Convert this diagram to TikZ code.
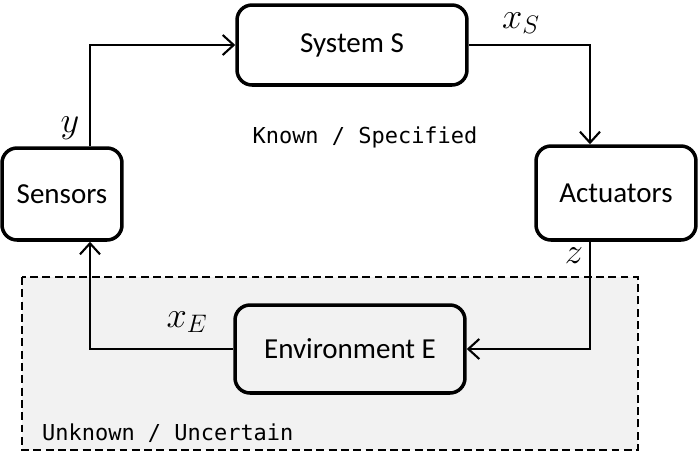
\documentclass[tikz,border=0pt]{standalone}
\usepackage{fontspec}
\setmainfont{Carlito}
\setmonofont{DejaVu Sans Mono}
\usetikzlibrary{arrows.meta}

\begin{document}
\begin{tikzpicture}[x=0.02cm, y=-0.02cm,
    block/.style={draw, rounded corners=0.3cm, line width=2pt, fill=white, font=\fontsize{16.5}{18}\selectfont},
    conn/.style={line width=1.2pt, -{Straight Barb[length=2.2mm, width=4mm, line width=1.2pt]}},
    sig/.style={inner sep=1pt, font=\fontsize{22}{24}\selectfont},
    note/.style={font=\ttfamily\fontsize{12.5}{14}\selectfont}]
    \useasboundingbox (0,0) rectangle (698,454);

    % uncertain part
    \draw[dash pattern=on 4.5pt off 2.5pt, line width=0.9pt, fill=black!5] (22,277) rectangle (638,450);

    \node[block, minimum width=4.6cm, minimum height=1.6cm]  (sys)  at (352,45)  {System S};
    \node[block, minimum width=2.4cm, minimum height=1.84cm] (sens) at (62,194)  {Sensors};
    \node[block, minimum width=3.2cm, minimum height=1.88cm] (act)  at (616,193) {Actuators};
    \node[block, fill=none, minimum width=4.6cm, minimum height=1.76cm] (env) at (350,349) {Environment E};

    \coordinate (lx) at (90,0);
    \coordinate (rx) at (590,0);

    \draw[conn] (sens.north -| lx) |- (sys.west);
    \draw[conn] (sys.east) -| (act.north -| rx);
    \draw[conn] (act.south -| rx) |- (env.east);
    \draw[conn] (env.west) -| (sens.south -| lx);

    \node[sig] (ly)  at (70,128)  {$y$};
    \node[sig] (lxs) at (521,23)  {$x_S$};
    \node[sig] (lz)  at (574,256) {$z$};
    \node[sig] (lxe) at (187,322) {$x_E$};

    \node[note] (known) at (365,137) {Known / Specified};
    \node[note, anchor=west] (unknown) at (36,433) {Unknown / Uncertain};
  \end{tikzpicture}
\end{document}
